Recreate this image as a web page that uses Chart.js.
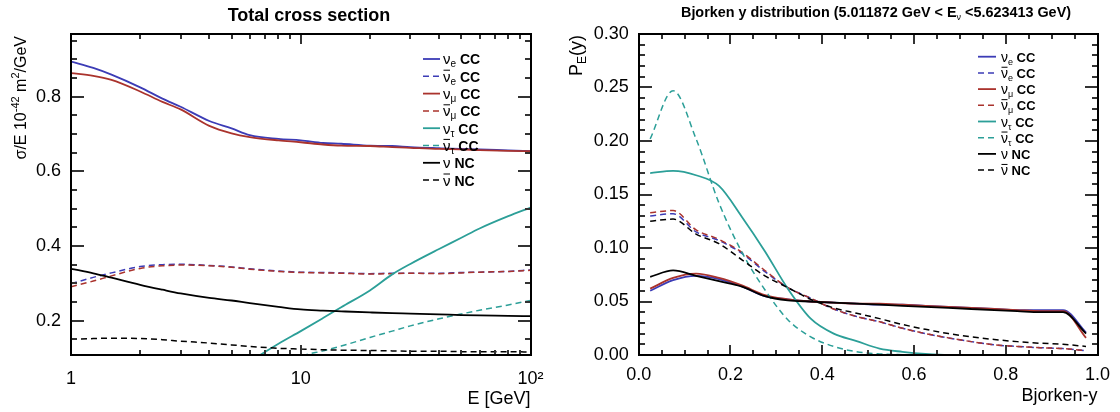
<!DOCTYPE html>
<html>
<head>
<meta charset="utf-8">
<title>Neutrino cross sections</title>
<script src="https://cdn.jsdelivr.net/npm/chart.js@4.4.1/dist/chart.umd.min.js"></script>
<style>
  html, body { margin: 0; padding: 0; background: #fff; overflow: hidden; }
  #wrap { position: relative; width: 1120px; height: 412px; }
  canvas { position: absolute; top: 0; }
  #xsec { left: 0; }
  #bjy { left: 560px; }
</style>
</head>
<body>
<div id="wrap">
  <canvas id="xsec" width="560" height="412"></canvas>
  <canvas id="bjy" width="560" height="412"></canvas>
</div>
<script>
const FONT = "'Liberation Sans', Arial, Helvetica, sans-serif";

// ---- total cross section: sigma/E (10^-42 m^2/GeV) vs E (GeV) ----
const energies    = [1, 1.25, 1.5, 2, 2.5, 3, 4, 5, 6, 8, 10, 12.5, 15, 20, 25, 30, 40, 50, 60, 80, 100];
const xsNueCC     = [0.894, 0.877, 0.859, 0.825, 0.795, 0.773, 0.735, 0.715, 0.697, 0.687, 0.683, 0.676, 0.674, 0.669, 0.668, 0.665, 0.662, 0.660, 0.659, 0.656, 0.654];
const xsNueBarCC  = [0.299, 0.316, 0.328, 0.345, 0.350, 0.351, 0.348, 0.344, 0.339, 0.333, 0.330, 0.329, 0.328, 0.326, 0.327, 0.327, 0.327, 0.329, 0.330, 0.332, 0.336];
const xsNumuCC    = [0.863, 0.856, 0.845, 0.814, 0.786, 0.766, 0.722, 0.702, 0.692, 0.683, 0.678, 0.672, 0.669, 0.668, 0.665, 0.663, 0.660, 0.659, 0.657, 0.655, 0.654];
const xsNumuBarCC = [0.291, 0.306, 0.320, 0.340, 0.347, 0.349, 0.347, 0.343, 0.338, 0.332, 0.329, 0.328, 0.327, 0.325, 0.326, 0.327, 0.326, 0.328, 0.330, 0.332, 0.335];
const xsNutauCC   = [0, 0, 0, 0, 0, 0, 0.020, 0.055, 0.090, 0.138, 0.172, 0.207, 0.236, 0.281, 0.324, 0.352, 0.392, 0.422, 0.447, 0.480, 0.503];
const xsNutauBarCC= [0, 0, 0, 0, 0, 0, 0, 0.010, 0.030, 0.070, 0.104, 0.119, 0.132, 0.155, 0.172, 0.186, 0.205, 0.218, 0.228, 0.242, 0.254];
const xsNuNC      = [0.339, 0.327, 0.315, 0.296, 0.283, 0.273, 0.261, 0.254, 0.247, 0.237, 0.230, 0.227, 0.225, 0.222, 0.220, 0.219, 0.217, 0.215, 0.214, 0.213, 0.212];
const xsNuBarNC   = [0.150, 0.152, 0.153, 0.152, 0.149, 0.145, 0.140, 0.135, 0.131, 0.126, 0.124, 0.122, 0.121, 0.120, 0.119, 0.118, 0.118, 0.117, 0.117, 0.117, 0.116];

const xsTicksX = [1, 10, 100];
const xsTickLabelsX = ['1', '10', '10\u00B2'];
const xsTicksY = [0.2, 0.4, 0.6, 0.8];
const xsTickLabelsY = ['0.2', '0.4', '0.6', '0.8'];

// ---- Bjorken y distribution, 5.01 < E < 5.62 GeV ----
const bjorkenY    = [0.025, 0.075, 0.125, 0.175, 0.225, 0.275, 0.325, 0.375, 0.425, 0.475, 0.525, 0.575, 0.625, 0.675, 0.725, 0.775, 0.825, 0.875, 0.925, 0.975];
const pyNueCC     = [0.060, 0.070, 0.074, 0.071, 0.064, 0.055, 0.052, 0.050, 0.049, 0.048, 0.047, 0.047, 0.046, 0.045, 0.044, 0.043, 0.042, 0.042, 0.042, 0.021];
const pyNueBarCC  = [0.130, 0.132, 0.115, 0.107, 0.095, 0.078, 0.063, 0.053, 0.043, 0.036, 0.031, 0.025, 0.020, 0.016, 0.0125, 0.0095, 0.008, 0.0068, 0.006, 0.004];
const pyNumuCC    = [0.062, 0.072, 0.076, 0.072, 0.065, 0.056, 0.052, 0.050, 0.049, 0.048, 0.048, 0.047, 0.046, 0.045, 0.044, 0.043, 0.042, 0.041, 0.041, 0.016];
const pyNumuBarCC = [0.133, 0.135, 0.117, 0.108, 0.096, 0.079, 0.063, 0.053, 0.043, 0.036, 0.031, 0.025, 0.020, 0.016, 0.0125, 0.0095, 0.008, 0.0068, 0.006, 0.004];
const pyNutauCC   = [0.170, 0.172, 0.168, 0.158, 0.129, 0.097, 0.062, 0.034, 0.020, 0.013, 0.006, 0.003, 0.001, 0, 0, 0, 0, 0, 0, 0];
const pyNutauBarCC= [0.202, 0.247, 0.202, 0.142, 0.096, 0.061, 0.033, 0.017, 0.008, 0.003, 0.001, 0.0003, 0, 0, 0, 0, 0, 0, 0, 0];
const pyNuNC      = [0.073, 0.079, 0.074, 0.069, 0.064, 0.055, 0.051, 0.050, 0.049, 0.048, 0.047, 0.046, 0.045, 0.044, 0.043, 0.042, 0.041, 0.040, 0.040, 0.020];
const pyNuBarNC   = [0.125, 0.127, 0.113, 0.104, 0.089, 0.074, 0.063, 0.052, 0.044, 0.039, 0.034, 0.0285, 0.024, 0.020, 0.017, 0.0145, 0.0125, 0.011, 0.010, 0.008];

const bjTicksX = [0, 0.2, 0.4, 0.6, 0.8, 1.0];
const bjTickLabelsX = ['0.0', '0.2', '0.4', '0.6', '0.8', '1.0'];
const bjTicksY = [0, 0.05, 0.10, 0.15, 0.20, 0.25, 0.30];
const bjTickLabelsY = ['0.00', '0.05', '0.10', '0.15', '0.20', '0.25', '0.30'];

// legend entries, same order as the series
const legendSub  = ['e', 'e', '\u03BC', '\u03BC', '\u03C4', '\u03C4', '', ''];
const legendBar  = [false, true, false, true, false, true, false, true];
const legendKind = ['CC', 'CC', 'CC', 'CC', 'CC', 'CC', 'NC', 'NC'];

const BLUE = '#3c3cb6', RED = '#aa332d', TEAL = '#2c9f98', BLACK = '#000000';
const colors = [BLUE, BLUE, RED, RED, TEAL, TEAL, BLACK, BLACK];

function makeSets(xs, list) {
  return list.map((ys, i) => ({
    data: ys.map((v, k) => ({ x: xs[k], y: v })),
    borderColor: colors[i],
    borderWidth: legendBar[i] ? 1.5 : 1.8,
    borderDash: legendBar[i] ? [6, 4] : [],
    pointRadius: 0,
    cubicInterpolationMode: 'monotone',
    fill: false,
    order: -i
  }));
}

function runFont(r) {
  return (r.bold ? 'bold ' : '') + r.size + 'px ' + FONT;
}

// draws a row of text pieces (for sub/superscripts and overbars)
function drawRich(ctx, runs, x, y, align) {
  let w = 0;
  runs.forEach(r => { ctx.font = runFont(r); w += ctx.measureText(r.t).width; });
  let cx = align === 'right' ? x - w : align === 'center' ? x - w / 2 : x;
  runs.forEach(r => {
    ctx.font = runFont(r);
    const rw = ctx.measureText(r.t).width;
    ctx.fillText(r.t, cx, y + (r.dy || 0));
    if (r.bar) ctx.fillRect(cx + 0.5, y + (r.dy || 0) - r.size * 0.8, rw - 1, 1);
    cx += rw;
  });
}

function drawLegend(ctx, chart, opt) {
  chart.data.datasets.forEach((ds, i) => {
    const yy = opt.top + i * opt.step;
    ctx.save();
    ctx.strokeStyle = ds.borderColor;
    ctx.lineWidth = ds.borderWidth;
    ctx.setLineDash(ds.borderDash);
    ctx.beginPath();
    ctx.moveTo(opt.x0, yy);
    ctx.lineTo(opt.x1, yy);
    ctx.stroke();
    ctx.restore();
    const runs = [{ t: '\u03BD', size: opt.nu, bar: legendBar[i] }];
    if (legendSub[i]) runs.push({ t: legendSub[i], size: opt.sub, dy: 3 });
    runs.push({ t: ' ' + legendKind[i], size: opt.kind, bold: true });
    drawRich(ctx, runs, opt.text, yy + opt.nu * 0.36, 'left');
  });
}

// frame plus inward ticks on all four sides, placed through the chart scales
function frameTicks(cfg) {
  return {
    id: 'frameTicks',
    afterDraw(chart) {
      const ctx = chart.ctx;
      const a = chart.chartArea;
      const xs = chart.scales.x, ys = chart.scales.y;
      const L = Math.round(a.left), R = Math.round(a.right);
      const T = Math.round(a.top), B = Math.round(a.bottom);
      ctx.save();
      ctx.fillStyle = '#333';
      const xt = (vals, len) => vals.forEach(v => {
        const p = Math.round(xs.getPixelForValue(v));
        ctx.fillRect(p - 1, B - len, 2, len);
        ctx.fillRect(p - 1, T, 2, len);
      });
      const yt = (vals, len) => vals.forEach(v => {
        const p = Math.round(ys.getPixelForValue(v));
        ctx.fillRect(L, p - 1, len, 2);
        ctx.fillRect(R - len, p - 1, len, 2);
      });
      xt(cfg.xMajorVals, cfg.xMajor);
      xt(cfg.xMinorVals, cfg.xMinor);
      yt(cfg.yMajorVals, cfg.yMajor);
      yt(cfg.yMinorVals, cfg.yMinor);
      ctx.fillStyle = '#000';
      ctx.fillRect(L - 1, T - 1, R - L + 2, 2);
      ctx.fillRect(L - 1, B - 1, R - L + 2, 2);
      ctx.fillRect(L - 1, T - 1, 2, B - T + 2);
      ctx.fillRect(R - 1, T - 1, 2, B - T + 2);
      ctx.restore();
    }
  };
}

// titles, rotated y titles and legends
function labels(cfg) {
  return {
    id: 'labels',
    afterDraw(chart) {
      const ctx = chart.ctx;
      ctx.save();
      ctx.fillStyle = '#000';
      ctx.textBaseline = 'alphabetic';
      drawRich(ctx, cfg.title, cfg.titleX, cfg.titleY, 'center');
      ctx.save();
      ctx.translate(cfg.yTitleX, cfg.yTitleTop);
      ctx.rotate(-Math.PI / 2);
      drawRich(ctx, cfg.yTitle, 0, 0, 'right');
      ctx.restore();
      drawLegend(ctx, chart, cfg.legend);
      ctx.restore();
    }
  };
}

const tickFont = { family: FONT, size: 18 };
const axisTitleFont = { family: FONT, size: 18 };

function logMinor() {
  const out = [];
  [1, 10].forEach(d => { for (let m = 2; m <= 9; m++) out.push(m * d); });
  return out;
}
function stepMinor(step, n, every) {
  const out = [];
  for (let k = 1; k < n; k++) if (k % every) out.push(+(k * step).toFixed(4));
  return out;
}

new Chart(document.getElementById('xsec'), {
  type: 'line',
  data: { datasets: makeSets(energies, [xsNueCC, xsNueBarCC, xsNumuCC, xsNumuBarCC, xsNutauCC, xsNutauBarCC, xsNuNC, xsNuBarNC]) },
  plugins: [
    frameTicks({ xMajorVals: xsTicksX, xMinorVals: logMinor(), xMajor: 10, xMinor: 5,
                 yMajorVals: xsTicksY, yMinorVals: stepMinor(0.05, 20, 4).filter(v => v > 0.108), yMajor: 13, yMinor: 6 }),
    labels({
      title: [{ t: 'Total cross section', size: 18, bold: true }],
      titleX: 309, titleY: 21,
      yTitle: [{ t: '\u03C3/E 10', size: 16 }, { t: '-42', size: 11, dy: -7 },
               { t: ' m', size: 16 }, { t: '2', size: 11, dy: -7 }, { t: '/GeV', size: 16 }],
      yTitleX: 26, yTitleTop: 36,
      legend: { top: 59, step: 17.3, x0: 423, x1: 440, text: 443, nu: 15, sub: 10, kind: 14 }
    })
  ],
  options: {
    responsive: false,
    devicePixelRatio: 1,
    animation: false,
    layout: { padding: { top: 34, right: 29.5, left: 0, bottom: 0 } },
    scales: {
      x: {
        type: 'logarithmic', min: 1, max: 100,
        afterBuildTicks: s => { s.ticks = xsTicksX.map(v => ({ value: v })); },
        afterFit: s => { s.height = 57; },
        grid: { display: false, drawTicks: false },
        border: { display: false },
        ticks: { font: tickFont, color: '#000', padding: 13, maxRotation: 0, autoSkip: false,
                 callback: (v, i) => xsTickLabelsX[i] },
        title: { display: true, text: 'E [GeV]', align: 'end', font: axisTitleFont, color: '#000',
                 padding: { top: 0, bottom: 2 } }
      },
      y: {
        min: 0.108, max: 0.968,
        afterBuildTicks: s => { s.ticks = xsTicksY.map(v => ({ value: v })); },
        afterFit: s => { s.width = 71; },
        grid: { display: false, drawTicks: false },
        border: { display: false },
        ticks: { font: tickFont, color: '#000', padding: 10, callback: (v, i) => xsTickLabelsY[i] }
      }
    },
    plugins: { legend: { display: false }, tooltip: { enabled: false } }
  }
});

new Chart(document.getElementById('bjy'), {
  type: 'line',
  data: { datasets: makeSets(bjorkenY, [pyNueCC, pyNueBarCC, pyNumuCC, pyNumuBarCC, pyNutauCC, pyNutauBarCC, pyNuNC, pyNuBarNC]) },
  plugins: [
    frameTicks({ xMajorVals: bjTicksX, xMinorVals: stepMinor(0.05, 20, 4), xMajor: 10, xMinor: 5,
                 yMajorVals: bjTicksY, yMinorVals: stepMinor(0.01, 30, 5), yMajor: 13, yMinor: 6 }),
    labels({
      title: [{ t: 'Bjorken y distribution (5.011872 GeV < E', size: 14.4, bold: true },
              { t: '\u03BD', size: 9, dy: 3 },
              { t: ' <5.623413 GeV)', size: 14.4, bold: true }],
      titleX: 316, titleY: 17,
      yTitle: [{ t: 'P', size: 18 }, { t: 'E', size: 12, dy: 4 }, { t: '(y)', size: 18 }],
      yTitleX: 22, yTitleTop: 35,
      legend: { top: 56.7, step: 16.2, x0: 418, x1: 436, text: 441, nu: 14, sub: 9, kind: 13 }
    })
  ],
  options: {
    responsive: false,
    devicePixelRatio: 1,
    animation: false,
    layout: { padding: { top: 34, right: 22.5, left: 0, bottom: 0 } },
    scales: {
      x: {
        type: 'linear', min: 0, max: 1,
        afterBuildTicks: s => { s.ticks = bjTicksX.map(v => ({ value: v })); },
        afterFit: s => { s.height = 57; },
        grid: { display: false, drawTicks: false },
        border: { display: false },
        ticks: { font: tickFont, color: '#000', padding: 9, maxRotation: 0, autoSkip: false,
                 callback: (v, i) => bjTickLabelsX[i] },
        title: { display: true, text: 'Bjorken-y', align: 'end', font: axisTitleFont, color: '#000',
                 padding: { top: 0, bottom: 5 } }
      },
      y: {
        min: 0, max: 0.30,
        afterBuildTicks: s => { s.ticks = bjTicksY.map(v => ({ value: v })); },
        afterFit: s => { s.width = 78.7; },
        grid: { display: false, drawTicks: false },
        border: { display: false },
        ticks: { font: tickFont, color: '#000', padding: 10, callback: (v, i) => bjTickLabelsY[i] }
      }
    },
    plugins: { legend: { display: false }, tooltip: { enabled: false } }
  }
});
</script>
</body>
</html>
